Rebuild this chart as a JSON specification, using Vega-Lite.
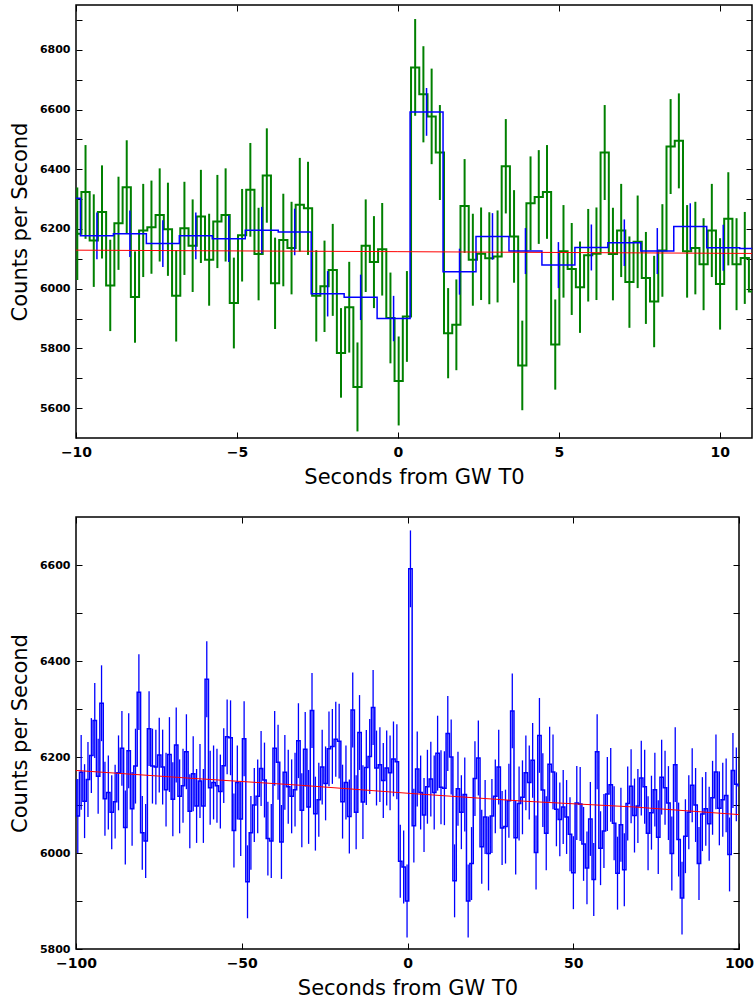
{
  "$schema": "https://vega.github.io/schema/vega-lite/v6.json",
  "background": "white",
  "padding": {"left": 8, "top": 3, "right": 0, "bottom": 0},
  "spacing": 27,
  "config": {
    "view": {"stroke": "black", "strokeWidth": 1.5},
    "axis": {
      "domain": false, "grid": false,
      "tickColor": "black", "tickSize": -6, "tickWidth": 1,
      "labelFont": "DejaVu Sans", "labelFontWeight": "bold", "labelColor": "black",
      "labelFlush": false, "labelOverlap": false,
      "titleFont": "DejaVu Sans", "titleFontSize": 21, "titleFontWeight": "normal", "titleColor": "black"
    },
    "axisX": {"labelFontSize": 14, "labelPadding": 13, "titlePadding": 7},
    "axisY": {"labelFontSize": 11, "labelPadding": 12, "titlePadding": 9}
  },
  "datasets": {
    "green": [
      {"t": -10.216, "v": 6184, "e": 155}, {"t": -9.960, "v": 6184, "e": 155}, {"t": -9.704, "v": 6324, "e": 157},
      {"t": -9.448, "v": 6161, "e": 155}, {"t": -9.192, "v": 6257, "e": 156}, {"t": -8.936, "v": 6011, "e": 153},
      {"t": -8.680, "v": 6219, "e": 156}, {"t": -8.424, "v": 6340, "e": 157}, {"t": -8.168, "v": 5972, "e": 153},
      {"t": -7.912, "v": 6195, "e": 156}, {"t": -7.656, "v": 6206, "e": 156}, {"t": -7.400, "v": 6247, "e": 156},
      {"t": -7.144, "v": 6199, "e": 156}, {"t": -6.888, "v": 5976, "e": 153}, {"t": -6.632, "v": 6202, "e": 156},
      {"t": -6.376, "v": 6144, "e": 155}, {"t": -6.120, "v": 6242, "e": 156}, {"t": -5.864, "v": 6097, "e": 154},
      {"t": -5.608, "v": 6225, "e": 156}, {"t": -5.352, "v": 6247, "e": 156}, {"t": -5.096, "v": 5952, "e": 152},
      {"t": -4.840, "v": 6179, "e": 155}, {"t": -4.584, "v": 6331, "e": 157}, {"t": -4.328, "v": 6116, "e": 155},
      {"t": -4.072, "v": 6379, "e": 158}, {"t": -3.816, "v": 6018, "e": 153}, {"t": -3.560, "v": 6163, "e": 155},
      {"t": -3.304, "v": 6136, "e": 155}, {"t": -3.048, "v": 6281, "e": 157}, {"t": -2.792, "v": 6269, "e": 156},
      {"t": -2.536, "v": 5976, "e": 153}, {"t": -2.280, "v": 6008, "e": 153}, {"t": -2.024, "v": 6063, "e": 154},
      {"t": -1.768, "v": 5785, "e": 150}, {"t": -1.512, "v": 5938, "e": 152}, {"t": -1.256, "v": 5671, "e": 149},
      {"t": -1.000, "v": 6144, "e": 155}, {"t": -0.744, "v": 6089, "e": 154}, {"t": -0.488, "v": 6132, "e": 155},
      {"t": -0.232, "v": 5902, "e": 152}, {"t": 0.024, "v": 5691, "e": 149}, {"t": 0.280, "v": 5907, "e": 152},
      {"t": 0.536, "v": 6741, "e": 162}, {"t": 0.792, "v": 6651, "e": 161}, {"t": 1.048, "v": 6577, "e": 160},
      {"t": 1.304, "v": 6456, "e": 159}, {"t": 1.560, "v": 5851, "e": 151}, {"t": 1.816, "v": 5879, "e": 152},
      {"t": 2.072, "v": 6277, "e": 157}, {"t": 2.328, "v": 6097, "e": 154}, {"t": 2.584, "v": 6117, "e": 155},
      {"t": 2.840, "v": 6102, "e": 154}, {"t": 3.096, "v": 6108, "e": 154}, {"t": 3.352, "v": 6410, "e": 158},
      {"t": 3.608, "v": 6175, "e": 155}, {"t": 3.864, "v": 5743, "e": 150}, {"t": 4.120, "v": 6286, "e": 157},
      {"t": 4.376, "v": 6307, "e": 157}, {"t": 4.632, "v": 6324, "e": 157}, {"t": 4.888, "v": 5813, "e": 151},
      {"t": 5.144, "v": 6125, "e": 155}, {"t": 5.400, "v": 6066, "e": 154}, {"t": 5.656, "v": 6005, "e": 153},
      {"t": 5.912, "v": 6112, "e": 155}, {"t": 6.168, "v": 6117, "e": 155}, {"t": 6.424, "v": 6456, "e": 159},
      {"t": 6.680, "v": 6116, "e": 155}, {"t": 6.936, "v": 6195, "e": 156}, {"t": 7.192, "v": 6022, "e": 153},
      {"t": 7.448, "v": 6157, "e": 155}, {"t": 7.704, "v": 6036, "e": 154}, {"t": 7.960, "v": 5957, "e": 153},
      {"t": 8.216, "v": 6128, "e": 155}, {"t": 8.472, "v": 6476, "e": 159}, {"t": 8.728, "v": 6495, "e": 159},
      {"t": 8.984, "v": 6125, "e": 155}, {"t": 9.240, "v": 6136, "e": 155}, {"t": 9.496, "v": 6082, "e": 154},
      {"t": 9.752, "v": 6195, "e": 156}, {"t": 10.008, "v": 6016, "e": 153}, {"t": 10.264, "v": 6234, "e": 156},
      {"t": 10.520, "v": 6082, "e": 154}, {"t": 10.776, "v": 6103, "e": 154}, {"t": 11.032, "v": 5991, "e": 153}
    ],
    "blue": [
      {"t": -100.486, "v": 6152, "e": 78}, {"t": -99.462, "v": 6077, "e": 77}, {"t": -98.438, "v": 6168, "e": 78},
      {"t": -97.414, "v": 6108, "e": 77}, {"t": -96.390, "v": 6153, "e": 78}, {"t": -95.366, "v": 6203, "e": 78},
      {"t": -94.342, "v": 6276, "e": 78}, {"t": -93.318, "v": 6160, "e": 78}, {"t": -92.294, "v": 6312, "e": 79},
      {"t": -91.270, "v": 6113, "e": 77}, {"t": -90.246, "v": 6126, "e": 77}, {"t": -89.222, "v": 6085, "e": 77},
      {"t": -88.198, "v": 6107, "e": 77}, {"t": -87.174, "v": 6167, "e": 78}, {"t": -86.150, "v": 6218, "e": 78},
      {"t": -85.126, "v": 6053, "e": 77}, {"t": -84.102, "v": 6213, "e": 78}, {"t": -83.078, "v": 6092, "e": 77},
      {"t": -82.054, "v": 6181, "e": 78}, {"t": -81.030, "v": 6335, "e": 79}, {"t": -80.006, "v": 6042, "e": 77},
      {"t": -78.982, "v": 6025, "e": 77}, {"t": -77.958, "v": 6259, "e": 78}, {"t": -76.934, "v": 6181, "e": 78},
      {"t": -75.910, "v": 6179, "e": 78}, {"t": -74.886, "v": 6204, "e": 78}, {"t": -73.862, "v": 6179, "e": 78},
      {"t": -72.838, "v": 6132, "e": 77}, {"t": -71.814, "v": 6205, "e": 78}, {"t": -70.790, "v": 6112, "e": 77},
      {"t": -69.766, "v": 6225, "e": 78}, {"t": -68.742, "v": 6118, "e": 77}, {"t": -67.718, "v": 6140, "e": 77},
      {"t": -66.694, "v": 6211, "e": 78}, {"t": -65.670, "v": 6087, "e": 77}, {"t": -64.646, "v": 6165, "e": 78},
      {"t": -63.622, "v": 6098, "e": 77}, {"t": -62.598, "v": 6150, "e": 77}, {"t": -61.574, "v": 6098, "e": 77},
      {"t": -60.550, "v": 6362, "e": 79}, {"t": -59.526, "v": 6136, "e": 77}, {"t": -58.502, "v": 6147, "e": 77},
      {"t": -57.478, "v": 6140, "e": 77}, {"t": -56.454, "v": 6128, "e": 77}, {"t": -55.430, "v": 6182, "e": 78},
      {"t": -54.406, "v": 6242, "e": 78}, {"t": -53.382, "v": 6240, "e": 78}, {"t": -52.358, "v": 6047, "e": 77},
      {"t": -51.334, "v": 6147, "e": 77}, {"t": -50.310, "v": 6071, "e": 77}, {"t": -49.286, "v": 6238, "e": 78},
      {"t": -48.262, "v": 5940, "e": 76}, {"t": -47.238, "v": 6042, "e": 77}, {"t": -46.214, "v": 6100, "e": 77},
      {"t": -45.190, "v": 6118, "e": 77}, {"t": -44.166, "v": 6176, "e": 78}, {"t": -43.142, "v": 6152, "e": 78},
      {"t": -42.118, "v": 6030, "e": 77}, {"t": -41.094, "v": 6025, "e": 77}, {"t": -40.070, "v": 6218, "e": 78},
      {"t": -39.046, "v": 6189, "e": 78}, {"t": -38.022, "v": 6023, "e": 77}, {"t": -36.998, "v": 6168, "e": 78},
      {"t": -35.974, "v": 6138, "e": 77}, {"t": -34.950, "v": 6118, "e": 77}, {"t": -33.926, "v": 6132, "e": 77},
      {"t": -32.902, "v": 6234, "e": 78}, {"t": -31.878, "v": 6089, "e": 77}, {"t": -30.854, "v": 6216, "e": 78},
      {"t": -29.830, "v": 6096, "e": 77}, {"t": -28.806, "v": 6297, "e": 78}, {"t": -27.782, "v": 6082, "e": 77},
      {"t": -26.758, "v": 6111, "e": 77}, {"t": -25.734, "v": 6179, "e": 78}, {"t": -24.710, "v": 6145, "e": 77},
      {"t": -23.686, "v": 6217, "e": 78}, {"t": -22.662, "v": 6222, "e": 78}, {"t": -21.638, "v": 6237, "e": 78},
      {"t": -20.614, "v": 6233, "e": 78}, {"t": -19.590, "v": 6107, "e": 77}, {"t": -18.566, "v": 6147, "e": 77},
      {"t": -17.542, "v": 6076, "e": 77}, {"t": -16.518, "v": 6298, "e": 78}, {"t": -15.494, "v": 6085, "e": 77},
      {"t": -14.470, "v": 6251, "e": 78}, {"t": -13.446, "v": 6106, "e": 77}, {"t": -12.422, "v": 6178, "e": 78},
      {"t": -11.398, "v": 6201, "e": 78}, {"t": -10.374, "v": 6303, "e": 78}, {"t": -9.350, "v": 6177, "e": 78},
      {"t": -8.326, "v": 6184, "e": 78}, {"t": -7.302, "v": 6151, "e": 78}, {"t": -6.278, "v": 6177, "e": 78},
      {"t": -5.254, "v": 6167, "e": 78}, {"t": -4.230, "v": 6196, "e": 78}, {"t": -3.206, "v": 6190, "e": 78},
      {"t": -2.182, "v": 5983, "e": 76}, {"t": -1.158, "v": 5971, "e": 76}, {"t": -0.134, "v": 5900, "e": 76},
      {"t": 0.890, "v": 6592, "e": 80}, {"t": 1.914, "v": 6057, "e": 77}, {"t": 2.938, "v": 6175, "e": 78},
      {"t": 3.962, "v": 6126, "e": 77}, {"t": 4.986, "v": 6079, "e": 77}, {"t": 6.010, "v": 6138, "e": 77},
      {"t": 7.034, "v": 6154, "e": 78}, {"t": 8.058, "v": 6126, "e": 77}, {"t": 9.082, "v": 6208, "e": 78},
      {"t": 10.106, "v": 6137, "e": 77}, {"t": 11.130, "v": 6135, "e": 77}, {"t": 12.154, "v": 6249, "e": 78},
      {"t": 13.178, "v": 6200, "e": 78}, {"t": 14.202, "v": 5942, "e": 76}, {"t": 15.226, "v": 6134, "e": 77},
      {"t": 16.250, "v": 6085, "e": 77}, {"t": 17.274, "v": 6122, "e": 77}, {"t": 18.298, "v": 5900, "e": 76},
      {"t": 19.322, "v": 5978, "e": 76}, {"t": 20.346, "v": 6155, "e": 78}, {"t": 21.370, "v": 6198, "e": 78},
      {"t": 22.394, "v": 6013, "e": 77}, {"t": 23.418, "v": 6075, "e": 77}, {"t": 24.442, "v": 5999, "e": 77},
      {"t": 25.466, "v": 6077, "e": 77}, {"t": 26.490, "v": 6118, "e": 77}, {"t": 27.514, "v": 6179, "e": 78},
      {"t": 28.538, "v": 6052, "e": 77}, {"t": 29.562, "v": 6055, "e": 77}, {"t": 30.586, "v": 6109, "e": 77},
      {"t": 31.610, "v": 6296, "e": 78}, {"t": 32.634, "v": 6032, "e": 77}, {"t": 33.658, "v": 6103, "e": 77},
      {"t": 34.682, "v": 6116, "e": 77}, {"t": 35.706, "v": 6167, "e": 78}, {"t": 36.730, "v": 6147, "e": 77},
      {"t": 37.754, "v": 6193, "e": 78}, {"t": 38.778, "v": 6001, "e": 77}, {"t": 39.802, "v": 6245, "e": 78},
      {"t": 40.826, "v": 6131, "e": 77}, {"t": 41.850, "v": 6041, "e": 77}, {"t": 42.874, "v": 6185, "e": 78},
      {"t": 43.898, "v": 6169, "e": 78}, {"t": 44.922, "v": 6091, "e": 77}, {"t": 45.946, "v": 6070, "e": 77},
      {"t": 46.970, "v": 6096, "e": 77}, {"t": 47.994, "v": 6075, "e": 77}, {"t": 49.018, "v": 6039, "e": 77},
      {"t": 50.042, "v": 5959, "e": 76}, {"t": 51.066, "v": 6104, "e": 77}, {"t": 52.090, "v": 6102, "e": 77},
      {"t": 53.114, "v": 6019, "e": 77}, {"t": 54.138, "v": 5969, "e": 76}, {"t": 55.162, "v": 6071, "e": 77},
      {"t": 56.186, "v": 5945, "e": 76}, {"t": 57.210, "v": 6211, "e": 78}, {"t": 58.234, "v": 6010, "e": 77},
      {"t": 59.258, "v": 6046, "e": 77}, {"t": 60.282, "v": 6123, "e": 77}, {"t": 61.306, "v": 6142, "e": 77},
      {"t": 62.330, "v": 6062, "e": 77}, {"t": 63.354, "v": 5958, "e": 76}, {"t": 64.378, "v": 6059, "e": 77},
      {"t": 65.402, "v": 5965, "e": 76}, {"t": 66.426, "v": 6103, "e": 77}, {"t": 67.450, "v": 6139, "e": 77},
      {"t": 68.474, "v": 6078, "e": 77}, {"t": 69.498, "v": 6098, "e": 77}, {"t": 70.522, "v": 6156, "e": 78},
      {"t": 71.546, "v": 6138, "e": 77}, {"t": 72.570, "v": 6041, "e": 77}, {"t": 73.594, "v": 6084, "e": 77},
      {"t": 74.618, "v": 6132, "e": 77}, {"t": 75.642, "v": 6033, "e": 77}, {"t": 76.666, "v": 6158, "e": 78},
      {"t": 77.690, "v": 6136, "e": 77}, {"t": 78.714, "v": 6104, "e": 77}, {"t": 79.738, "v": 5999, "e": 77},
      {"t": 80.762, "v": 6184, "e": 78}, {"t": 81.786, "v": 6028, "e": 77}, {"t": 82.810, "v": 5906, "e": 76},
      {"t": 83.834, "v": 6035, "e": 77}, {"t": 84.858, "v": 6085, "e": 77}, {"t": 85.882, "v": 6141, "e": 77},
      {"t": 86.906, "v": 6100, "e": 77}, {"t": 87.930, "v": 5978, "e": 76}, {"t": 88.954, "v": 6081, "e": 77},
      {"t": 89.978, "v": 6092, "e": 77}, {"t": 91.002, "v": 6061, "e": 77}, {"t": 92.026, "v": 6115, "e": 77},
      {"t": 93.050, "v": 6169, "e": 78}, {"t": 94.074, "v": 6093, "e": 77}, {"t": 95.098, "v": 6111, "e": 77},
      {"t": 96.122, "v": 6120, "e": 77}, {"t": 97.146, "v": 5997, "e": 77}, {"t": 98.170, "v": 6172, "e": 78},
      {"t": 99.194, "v": 6143, "e": 77}, {"t": 100.218, "v": 6140, "e": 77}
    ],
    "redTop": [
      {"t": -10, "v": 6129}, {"t": 0, "v": 6124}, {"t": 11, "v": 6118}
    ],
    "redBottom": [
      {"t": -100, "v": 6172}, {"t": -66, "v": 6156}, {"t": -32, "v": 6141}, {"t": 1, "v": 6124},
      {"t": 35, "v": 6108}, {"t": 68, "v": 6096}, {"t": 100, "v": 6080}
    ]
  },
  "vconcat": [
    {
      "width": 676,
      "height": 433,
      "resolve": {"axis": {"x": "independent", "y": "independent"}},
      "layer": [
        {
          "data": {"name": "green"},
          "transform": [{"filter": {"field": "t", "range": [-10, 11]}}],
          "mark": {"type": "errorbar", "color": "green", "thickness": 2},
          "encoding": {
            "x": {"field": "t", "type": "quantitative", "scale": {"domain": [-10, 11], "nice": false}, "axis": null},
            "y": {"field": "v", "type": "quantitative", "scale": {"domain": [5500, 6950], "nice": false, "zero": false}, "axis": null},
            "yError": {"field": "e"}
          }
        },
        {
          "data": {"name": "green"},
          "mark": {"type": "line", "interpolate": "step", "color": "green", "strokeWidth": 2, "clip": true},
          "encoding": {
            "x": {"field": "t", "type": "quantitative", "scale": {"domain": [-10, 11], "nice": false}, "axis": null},
            "y": {"field": "v", "type": "quantitative", "scale": {"domain": [5500, 6950], "nice": false, "zero": false}, "axis": null}
          }
        },
        {
          "data": {"name": "blue"},
          "transform": [{"filter": {"field": "t", "range": [-10, 11]}}],
          "mark": {"type": "errorbar", "color": "blue", "thickness": 1.5},
          "encoding": {
            "x": {"field": "t", "type": "quantitative", "axis": null},
            "y": {"field": "v", "type": "quantitative", "axis": null},
            "yError": {"field": "e"}
          }
        },
        {
          "data": {"name": "blue"},
          "transform": [{"filter": {"field": "t", "range": [-12, 13]}}],
          "mark": {"type": "line", "interpolate": "step", "color": "blue", "strokeWidth": 1.5, "clip": true},
          "encoding": {
            "x": {"field": "t", "type": "quantitative", "axis": null},
            "y": {"field": "v", "type": "quantitative", "axis": null}
          }
        },
        {
          "data": {"name": "redTop"},
          "mark": {"type": "line", "color": "red", "strokeWidth": 1, "clip": true},
          "encoding": {
            "x": {"field": "t", "type": "quantitative",
              "axis": {"title": "Seconds from GW T0", "values": [-10, -5, 0, 5, 10], "format": "d"}},
            "y": {"field": "v", "type": "quantitative",
              "axis": {"title": "Counts per Second", "format": "d",
                "values": [5600, 5700, 5800, 5900, 6000, 6100, 6200, 6300, 6400, 6500, 6600, 6700, 6800, 6900],
                "labelExpr": "datum.value % 200 === 0 ? datum.label : ''"}}
          }
        },
        {
          "data": {"name": "redTop"},
          "mark": {"type": "line", "strokeOpacity": 0},
          "encoding": {
            "x": {"field": "t", "type": "quantitative",
              "axis": {"orient": "top", "title": null, "labels": false, "values": [-10, -5, 0, 5, 10]}},
            "y": {"field": "v", "type": "quantitative",
              "axis": {"orient": "right", "title": null, "labels": false,
                "values": [5600, 5700, 5800, 5900, 6000, 6100, 6200, 6300, 6400, 6500, 6600, 6700, 6800, 6900]}}
          }
        }
      ]
    },
    {
      "width": 663,
      "height": 432,
      "resolve": {"axis": {"x": "independent", "y": "independent"}},
      "layer": [
        {
          "data": {"name": "blue"},
          "transform": [{"filter": {"field": "t", "range": [-100, 100]}}],
          "mark": {"type": "errorbar", "color": "blue", "thickness": 1.3},
          "encoding": {
            "x": {"field": "t", "type": "quantitative", "scale": {"domain": [-100, 100], "nice": false}, "axis": null},
            "y": {"field": "v", "type": "quantitative", "scale": {"domain": [5800, 6700], "nice": false, "zero": false}, "axis": null},
            "yError": {"field": "e"}
          }
        },
        {
          "data": {"name": "blue"},
          "mark": {"type": "line", "interpolate": "step", "color": "blue", "strokeWidth": 1.5, "clip": true},
          "encoding": {
            "x": {"field": "t", "type": "quantitative", "scale": {"domain": [-100, 100], "nice": false}, "axis": null},
            "y": {"field": "v", "type": "quantitative", "scale": {"domain": [5800, 6700], "nice": false, "zero": false}, "axis": null}
          }
        },
        {
          "data": {"name": "redBottom"},
          "mark": {"type": "line", "color": "red", "strokeWidth": 1, "clip": true},
          "encoding": {
            "x": {"field": "t", "type": "quantitative",
              "axis": {"title": "Seconds from GW T0", "values": [-100, -50, 0, 50, 100], "format": "d"}},
            "y": {"field": "v", "type": "quantitative",
              "axis": {"title": "Counts per Second", "format": "d",
                "values": [5800, 5900, 6000, 6100, 6200, 6300, 6400, 6500, 6600],
                "labelExpr": "datum.value % 200 === 0 ? datum.label : ''"}}
          }
        },
        {
          "data": {"name": "redBottom"},
          "mark": {"type": "line", "strokeOpacity": 0},
          "encoding": {
            "x": {"field": "t", "type": "quantitative",
              "axis": {"orient": "top", "title": null, "labels": false, "values": [-100, -50, 0, 50, 100]}},
            "y": {"field": "v", "type": "quantitative",
              "axis": {"orient": "right", "title": null, "labels": false,
                "values": [5800, 5900, 6000, 6100, 6200, 6300, 6400, 6500, 6600]}}
          }
        }
      ]
    }
  ]
}
